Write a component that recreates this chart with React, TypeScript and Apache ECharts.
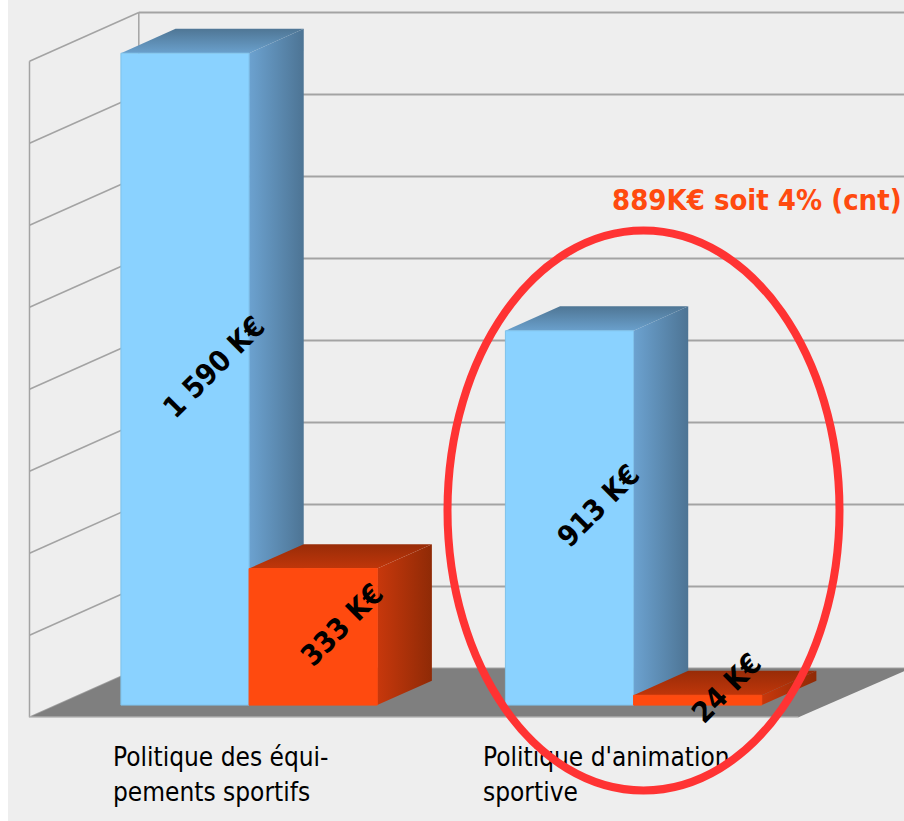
import React, { useEffect, useRef } from "react";
import * as echarts from "echarts";

const categories = ["Politique des équi-\npements sportifs", "Politique d'animation\nsportive"];
const equipmentValues = [1590, 913];
const functioningValues = [333, 24];
const gridValues = [0, 200, 400, 600, 800, 1000, 1200, 1400, 1600];
const valueLabels = ["1 590 K€", "913 K€", "333 K€", "24 K€"];
const calloutText = "889K€ soit 4% (cnt)";

const FLOOR_DX = 109.3;
const FLOOR_DY = -48.8;
const BAR_OFFSET = 0.25;
const BAR_DEPTH = 0.5;
const LABEL_FONT = "DejaVu Sans Condensed";

const linear = (x: number, y: number, x2: number, y2: number, c0: string, c1: string) => ({
  type: "linear", x, y, x2, y2,
  colorStops: [{ offset: 0, color: c0 }, { offset: 1, color: c1 }],
});

const blue = {
  front: "#8ad2ff", edge: "#7fc2ea",
  side: linear(0, 0, 1, 0, "#6ca2d0", "#4d7494"),
  top: linear(0, 1, 0, 0, "#6aa0cc", "#4f7695"),
};
const red = {
  front: "#ff4a0f", edge: "#ff4a0f",
  side: linear(0, 0, 1, 0, "#c8380c", "#8f2a06"),
  top: linear(0, 1, 0, 0, "#c0360a", "#982c08"),
};

function barItem(slot: number, colors: any) {
  return (_: any, api: any) => {
    const band = api.size([1, 0])[0];
    const w = band / 3;
    const [cx, yVal] = api.coord([api.value(0), api.value(1)]);
    const [, yBase] = api.coord([api.value(0), 0]);
    const ox = FLOOR_DX * BAR_OFFSET, oy = FLOOR_DY * BAR_OFFSET;
    const dx = FLOOR_DX * BAR_DEPTH, dy = FLOOR_DY * BAR_DEPTH;
    const x0 = cx + ox + (slot === 0 ? -w : 0);
    const x1 = x0 + w;
    const y0 = yVal + oy;
    const y1 = yBase + oy;
    const poly = (points: number[][], fill: any, stroke?: string) => ({
      type: "polygon",
      shape: { points },
      style: { fill, stroke: stroke || "none", lineWidth: stroke ? 1 : 0 },
    });
    return {
      type: "group",
      children: [
        poly([[x1, y0], [x1 + dx, y0 + dy], [x1 + dx, y1 + dy], [x1, y1]], colors.side),
        poly([[x0, y0], [x0 + dx, y0 + dy], [x1 + dx, y0 + dy], [x1, y0]], colors.top),
        poly([[x0, y0], [x1, y0], [x1, y1], [x0, y1]], colors.front, colors.edge),
      ],
    };
  };
}

function labelItem(slot: number, offsetIndex: number) {
  return (params: any, api: any) => {
    const band = api.size([1, 0])[0];
    const w = band / 3;
    const [cx, yVal] = api.coord([api.value(0), api.value(1)]);
    const [, yBase] = api.coord([api.value(0), 0]);
    const x = cx + FLOOR_DX * (BAR_OFFSET + BAR_DEPTH / 2) + (slot === 0 ? -w / 2 : w / 2) + 1.5;
    const y = (yVal + yBase) / 2 + FLOOR_DY * (BAR_OFFSET + BAR_DEPTH / 2);
    return {
      type: "text",
      x, y,
      rotation: Math.PI / 4,
      style: {
        text: valueLabels[offsetIndex + params.dataIndex],
        align: "center",
        verticalAlign: "middle",
        fontFamily: LABEL_FONT,
        fontWeight: "bold",
        fontSize: 29,
        fill: "#000",
      },
    };
  };
}

function wallsItem(params: any, api: any) {
  const value = api.value(0);
  const [, y] = api.coord([0, value]);
  const [, yTop] = api.coord([0, gridValues[gridValues.length - 1]]);
  const [, yBase] = api.coord([0, 0]);
  const band = api.size([1, 0])[0];
  const xs = api.coord([0, 0])[0] - band / 2;
  const xb = xs + FLOOR_DX;
  const line = (x1: number, y1: number, x2: number, y2: number, width: number, stroke = "#a3a3a3") => ({
    type: "line",
    shape: { x1, y1, x2, y2 },
    style: { stroke, lineWidth: width },
  });
  const children: any[] = [
    line(xs, y, xb, y + FLOOR_DY, 1.5),
    line(xb, y + FLOOR_DY, 904, y + FLOOR_DY, 2),
  ];
  if (params.dataIndex === 0) {
    children.push(
      line(xs, yTop, xs, yBase, 1.5),
      line(xb, yTop + FLOOR_DY, xb, yBase + FLOOR_DY, 1.5),
      {
        type: "polygon",
        shape: {
          points: [
            [xs, yBase],
            [xb, yBase + FLOOR_DY],
            [910, yBase + FLOOR_DY],
            [xs + band * 2, yBase],
          ],
        },
        style: { fill: "#7f7f7f" },
      },
      line(xs, yBase, xs + band * 2, yBase, 1.5, "#c4c4c4")
    );
  }
  return { type: "group", children };
}

export default function App() {
  const ref = useRef<HTMLDivElement>(null);
  useEffect(() => {
    document.body.style.margin = "0";
    const chart = echarts.init(ref.current!, undefined, { renderer: "svg" });
    const toData = (vals: number[]) => vals.map((v, i) => [i, v]);
    chart.setOption({
      animation: false,
      backgroundColor: "#ffffff",
      grid: { left: 29.5, top: 61.3, width: 769, height: 656 },
      xAxis: { type: "category", data: categories, show: false },
      yAxis: { type: "value", min: 0, max: 1600, interval: 200, show: false },
      graphic: [
        { type: "rect", z: -10, shape: { x: 8, y: 0, width: 896, height: 821 }, style: { fill: "#eeeeee" }, silent: true },
        { type: "text", z: 50, x: 612, y: 200, style: { text: calloutText, fontFamily: LABEL_FONT, fontWeight: "bold", fontSize: 29, fill: "#ff4a0f", verticalAlign: "middle" } },
        { type: "text", z: 50, x: 113, y: 739.5, style: { text: categories[0], fontFamily: LABEL_FONT, fontSize: 26, lineHeight: 35, fill: "#000" } },
        { type: "text", z: 50, x: 483, y: 739.5, style: { text: categories[1], fontFamily: LABEL_FONT, fontSize: 26, lineHeight: 35, fill: "#000" } },
        { type: "ellipse", z: 100, shape: { cx: 643.5, cy: 510.5, rx: 196, ry: 280 }, style: { fill: "none", stroke: "#ff3333", lineWidth: 8 } },
      ],
      series: [
        { type: "custom", name: "Grille", z: 1, clip: false, silent: true, data: gridValues.map((v) => [v]), encode: { y: 0 }, renderItem: wallsItem },
        { type: "custom", name: "Equipement", z: 2, clip: false, data: toData(equipmentValues), encode: { x: 0, y: 1 }, renderItem: barItem(0, blue) },
        { type: "custom", name: "Fonctionnement", z: 3, clip: false, data: toData(functioningValues), encode: { x: 0, y: 1 }, renderItem: barItem(1, red) },
        { type: "custom", name: "Etiquettes A", z: 4, clip: false, data: toData(equipmentValues), encode: { x: 0, y: 1 }, renderItem: labelItem(0, 0) },
        { type: "custom", name: "Etiquettes B", z: 4, clip: false, data: toData(functioningValues), encode: { x: 0, y: 1 }, renderItem: labelItem(1, 2) },
      ],
    });
    return () => chart.dispose();
  }, []);
  return <div ref={ref} style={{ width: 904, height: 821 }} />;
}
